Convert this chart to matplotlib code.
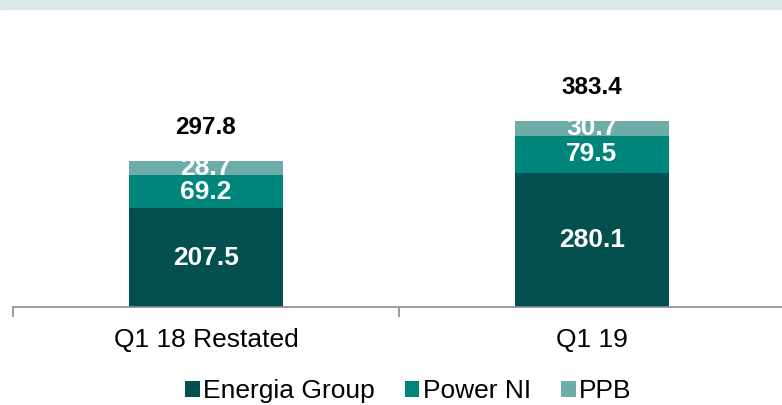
import numpy as np
import matplotlib.pyplot as plt
from matplotlib.patches import Rectangle

plt.rcParams['font.family'] = ['Liberation Sans', 'DejaVu Sans']

categories = ["Q1 18 Restated", "Q1 19"]
energia = [207.5, 280.1]
power_ni = [69.2, 79.5]
ppb = [28.7, 30.7]
totals = [297.8, 383.4]

c_energia = "#044f50"
c_power = "#00857a"
c_ppb = "#6eaca9"

fig = plt.figure(figsize=(7.82, 4.05), dpi=100)
# light band at the very top
fig.patches.append(Rectangle((0, 1 - 9 / 405), 1, 9 / 405, transform=fig.transFigure,
                             color="#dceaea", zorder=0))

ax = fig.add_axes([13 / 782, (405 - 307) / 405, 772 / 782, 298 / 405])
x = np.arange(len(categories))
w = 0.40

b1 = ax.bar(x, energia, w, color=c_energia, label="Energia Group")
b2 = ax.bar(x, power_ni, w, bottom=energia, color=c_power, label="Power NI")
bottom2 = np.array(energia) + np.array(power_ni)
b3 = ax.bar(x, ppb, w, bottom=bottom2, color=c_ppb, label="PPB")

for i in range(len(categories)):
    ax.text(x[i], energia[i] / 2, f"{energia[i]:.1f}", ha="center", va="center",
            color="white", fontsize=19, fontweight="bold")
    ax.text(x[i], energia[i] + power_ni[i] / 2, f"{power_ni[i]:.1f}", ha="center", va="center",
            color="white", fontsize=19, fontweight="bold")
    ax.text(x[i], bottom2[i] + ppb[i] / 2, f"{ppb[i]:.1f}", ha="center", va="center",
            color="white", fontsize=19, fontweight="bold")
    ax.text(x[i], totals[i] + 78, f"{totals[i]:.1f}", ha="center", va="center",
            color="black", fontsize=17.5, fontweight="bold")

ax.set_xlim(-0.5, 1.5)
ax.set_ylim(0, 625)
ax.set_yticks([])
for s in ["top", "right", "left"]:
    ax.spines[s].set_visible(False)
ax.spines["bottom"].set_color("#8c8c8c")
ax.spines["bottom"].set_linewidth(1.2)
ax.set_xticks(x)
ax.set_xticklabels(categories, fontsize=19)
ax.tick_params(axis="x", which="major", length=0, pad=15)
ax.set_xticks([-0.5, 0.5, 1.5], minor=True)
ax.tick_params(axis="x", which="minor", length=7, width=1.2, color="#8c8c8c")

fig.legend(handles=[b1, b2, b3], loc="center", bbox_to_anchor=(0.522, 14 / 405),
           ncol=3, frameon=False, fontsize=19, handlelength=0.55, handleheight=0.55,
           handletextpad=0.12, columnspacing=1.15, borderpad=0)

fig.savefig("out.png", dpi=100)
